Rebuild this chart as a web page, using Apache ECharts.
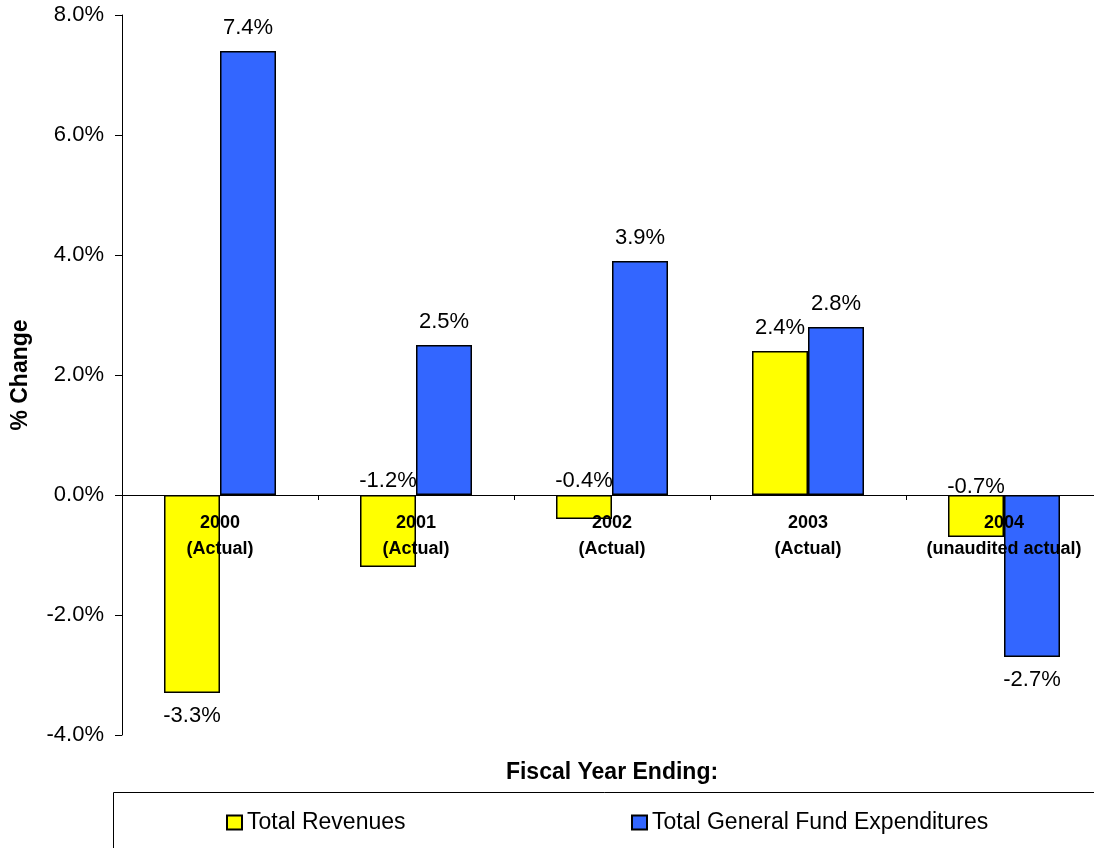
<!DOCTYPE html>
<html>
<head>
<meta charset="utf-8">
<style>
  html, body { margin: 0; padding: 0; background: #fff; }
  #chart { width: 1094px; height: 848px; }
</style>
<script src="https://cdn.jsdelivr.net/npm/echarts@6/dist/echarts.min.js"></script>
</head>
<body>
<div id="chart"></div>
<script>
// Fiscal years shown on the category axis
const categories = ['2000\n(Actual)', '2001\n(Actual)', '2002\n(Actual)', '2003\n(Actual)', '2004\n(unaudited actual)'];
// Year-over-year % change
const revenues = [-3.3, -1.2, -0.4, 2.4, -0.7];
const expenditures = [7.4, 2.5, 3.9, 2.8, -2.7];
// Value axis range and step
const yMin = -4, yMax = 8, yStep = 2;
// Label placement per point: small negative revenue labels sit above the zero line
const revenueLabelPos = ['bottom', 'top', 'top', 'top', 'top'];
const expenditureLabelPos = ['top', 'top', 'top', 'top', 'bottom'];

const FONT = "'Liberation Sans', Arial, sans-serif";
const fmt = v => v.toFixed(1) + '%';

const GRID = { left: 122, top: 15, width: 980, height: 720 };
// shift the category axis (line, ticks, labels) up to the zero level
const zeroOffset = -GRID.height * (0 - yMin) / (yMax - yMin);

function points(values, positions, distances) {
  return values.map((v, i) => ({
    value: v,
    label: { position: positions[i], distance: distances ? distances[i] : 12 }
  }));
}

const chart = echarts.init(document.getElementById('chart'), null, { renderer: 'canvas' });

chart.setOption({
  animation: false,
  backgroundColor: '#fff',
  textStyle: { fontFamily: FONT },
  grid: Object.assign({ containLabel: false, outerBoundsMode: 'none' }, GRID),
  xAxis: {
    type: 'category',
    data: categories,
    z: 10,
    offset: zeroOffset,
    axisLine: { onZero: false, lineStyle: { color: '#000', width: 1 } },
    axisTick: { show: true, length: 5, lineStyle: { color: '#000' } },
    axisLabel: {
      color: '#000', fontFamily: FONT, fontWeight: 'bold', fontSize: 18,
      lineHeight: 26, margin: 15, interval: 0, hideOverlap: false
    },
    splitLine: { show: false }
  },
  yAxis: {
    type: 'value',
    min: yMin, max: yMax, interval: yStep,
    axisLine: { show: true, lineStyle: { color: '#000', width: 1 } },
    axisTick: { show: true, length: 7, lineStyle: { color: '#000' } },
    axisLabel: { color: '#000', fontFamily: FONT, fontSize: 22, margin: 18, formatter: fmt },
    splitLine: { show: false }
  },
  legend: [
    {
      data: ['Total Revenues'],
      left: 226, top: 811, padding: 0,
      icon: 'rect',
      itemWidth: 15, itemHeight: 14, itemGap: 5,
      textStyle: { color: '#000', fontFamily: FONT, fontSize: 23 },
      itemStyle: { borderColor: '#000', borderWidth: 2 }
    },
    {
      data: ['Total General Fund Expenditures'],
      left: 631, top: 811, padding: 0,
      icon: 'rect',
      itemWidth: 15, itemHeight: 14, itemGap: 5,
      textStyle: { color: '#000', fontFamily: FONT, fontSize: 23 },
      itemStyle: { borderColor: '#000', borderWidth: 2 }
    }
  ],
  graphic: [
    {
      type: 'rect', z: 0,
      shape: { x: 113.5, y: 792.5, width: 1000, height: 100 },
      style: { fill: 'none', stroke: '#000', lineWidth: 1 }
    },
    {
      type: 'text', x: 612, y: 773,
      style: {
        text: 'Fiscal Year Ending:', font: "bold 23px " + FONT, fill: '#000',
        align: 'center', verticalAlign: 'middle'
      }
    },
    {
      type: 'text', x: 21, y: 375, rotation: Math.PI / 2,
      style: {
        text: '% Change', font: "bold 23px " + FONT, fill: '#000',
        align: 'center', verticalAlign: 'middle'
      }
    }
  ],
  series: [
    {
      name: 'Total Revenues',
      type: 'bar',
      barWidth: 56,
      barGap: '0%',
      itemStyle: { color: '#FFFF00', borderColor: '#000', borderWidth: 1.5 },
      label: { show: true, color: '#000', fontFamily: FONT, fontSize: 22, formatter: p => fmt(p.value) },
      data: points(revenues, revenueLabelPos, [12, 3, 3, 12, -3])
    },
    {
      name: 'Total General Fund Expenditures',
      type: 'bar',
      barWidth: 56,
      barGap: '0%',
      itemStyle: { color: '#3366FF', borderColor: '#000', borderWidth: 1.5 },
      label: { show: true, color: '#000', fontFamily: FONT, fontSize: 22, formatter: p => fmt(p.value) },
      data: points(expenditures, expenditureLabelPos)
    }
  ]
});
</script>
</body>
</html>
